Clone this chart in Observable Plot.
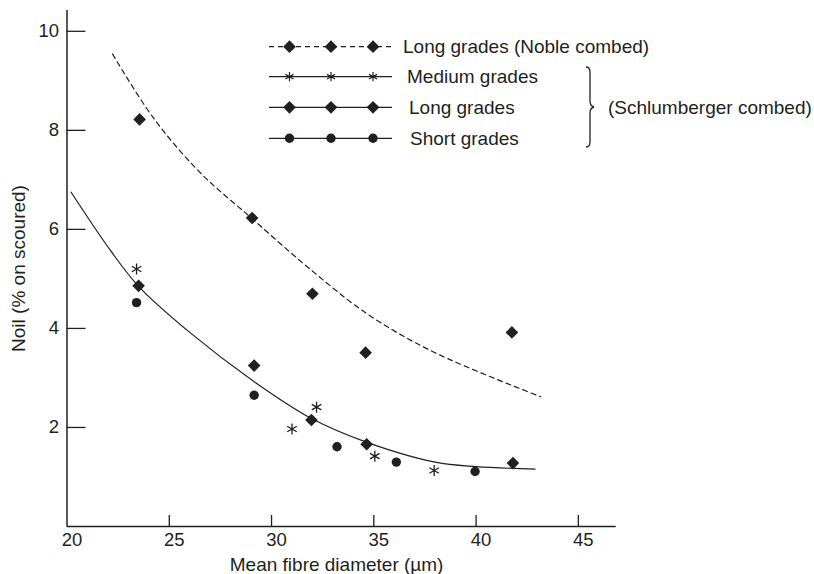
<!DOCTYPE html>
<html><head><meta charset="utf-8">
<script src="https://cdn.jsdelivr.net/npm/d3@7"></script>
<script src="https://cdn.jsdelivr.net/npm/@observablehq/plot@0.6"></script>
<style>
body{margin:0;background:#fff;}
#chart{position:relative;width:814px;height:574px;}
</style></head><body><div id="chart"></div>
<script>
// ---- data ----
const nobleX = [23.55, 29.05, 32.0, 34.6, 41.75];
const nobleY = [8.22, 6.23, 4.70, 3.51, 3.92];
const mediumX = [23.4, 31.0, 32.2, 35.05, 37.95];
const mediumY = [5.2, 1.97, 2.41, 1.42, 1.13];
const longX = [23.5, 29.15, 31.95, 34.65, 41.8];
const longY = [4.86, 3.25, 2.15, 1.66, 1.28];
const shortX = [23.4, 29.15, 33.2, 36.1, 39.95];
const shortY = [4.52, 2.65, 1.61, 1.30, 1.11];
// fitted curves
const nobleFitX = [22.23, 24.19, 26.5, 29.04, 31.76, 34.69, 37.94, 43.16];
const nobleFitY = [9.54, 8.27, 7.15, 6.22, 5.24, 4.29, 3.52, 2.62];
const schlFitX = [20.2, 22.15, 23.5, 26.0, 29.17, 32.0, 34.6, 38.0, 40.0, 42.88];
const schlFitY = [6.75, 5.56, 4.85, 3.92, 2.92, 2.17, 1.71, 1.30, 1.21, 1.16];
const xTicks = [20, 25, 30, 35, 40, 45];
const yTicks = [2, 4, 6, 8, 10];
const xLabel = "Mean fibre diameter (µm)";
const yLabel = "Noil (% on scoured)";
const legendLabels = ["Long grades (Noble combed)", "Medium grades", "Long grades", "Short grades"];
const braceLabel = "(Schlumberger combed)";

const ink = "#231f20";
const font = "'Liberation Sans', Arial, Helvetica, sans-serif";
const fs = 19;
const fsTick = 18.5;
const pts = (xs, ys) => xs.map((x, i) => ({x, y: ys[i]}));
const xMax = 46.85, yMax = 10.42;
const rD = 5.7, rC = 4.7, rA = 5.2;

const plot = Plot.plot({
  width: 814, height: 574,
  marginLeft: 66.5, marginRight: 198.3, marginTop: 10, marginBottom: 48,
  style: {fontFamily: font, fontSize: fs + "px", color: ink, background: "white", overflow: "visible"},
  x: {domain: [20, xMax]},
  y: {domain: [0, yMax]},
  marks: [
    Plot.axisX(xTicks, {tickSize: 0, tickPadding: 6, dx: 5, fontSize: fsTick, label: null, fill: ink, tickFormat: d => String(d)}),
    Plot.axisY(yTicks, {tickSize: 0, tickPadding: 8, fontSize: fsTick, label: null, fill: ink, tickFormat: d => String(d)}),
    Plot.ruleX(xTicks.filter(d => d > 20), {x: d => d, y1: 0, y2: 11 / 49.53, stroke: ink, strokeWidth: 1.3}),
    Plot.ruleY(yTicks, {y: d => d, x1: 20, x2: 20 + 19 / 20.45, stroke: ink, strokeWidth: 1.3}),
    Plot.ruleX([20], {y1: 0, y2: yMax, stroke: ink, strokeWidth: 1.5}),
    Plot.ruleY([0], {x1: 20, x2: xMax, stroke: ink, strokeWidth: 1.5}),
    Plot.line(pts(nobleFitX, nobleFitY), {x: "x", y: "y", curve: "catmull-rom", stroke: ink, strokeWidth: 1.2, strokeDasharray: "5,4"}),
    Plot.line(pts(schlFitX, schlFitY), {x: "x", y: "y", curve: "catmull-rom", stroke: ink, strokeWidth: 1.2}),
    Plot.dot(pts(nobleX, nobleY), {x: "x", y: "y", symbol: "diamond2", r: rD, fill: ink, stroke: "none"}),
    Plot.dot(pts(longX, longY), {x: "x", y: "y", symbol: "diamond2", r: rD, fill: ink, stroke: "none"}),
    Plot.dot(pts(shortX, shortY), {x: "x", y: "y", symbol: "circle", r: rC, fill: ink, stroke: "none"}),
    Plot.dot(pts(mediumX, mediumY), {x: "x", y: "y", symbol: "asterisk", r: rA, fill: "none", stroke: ink, strokeWidth: 1.3}),
    Plot.text([xLabel], {frameAnchor: "bottom", textAnchor: "middle", dy: 44, dx: -5, fontSize: fs, fill: ink}),
    Plot.text([yLabel], {frameAnchor: "left", textAnchor: "middle", lineAnchor: "middle", rotate: -90, dx: -48, fontSize: fs, fill: ink})
  ]
});
document.getElementById("chart").appendChild(plot);

// ---- legend (drawn inside the same SVG) ----
const svg = d3.select(plot);
const g = svg.append("g").attr("font-family", font).attr("font-size", fs)
  .attr("fill", ink).attr("text-anchor", "start");
const rowsY = [46.7, 76.7, 107.3, 138.3];
const textX = [403, 407, 409, 410];
const symX = [289.5, 331, 373];
const syms = [
  {type: d3.symbolDiamond2, r: rD, fill: ink, stroke: "none", dash: "5,4"},
  {type: d3.symbolAsterisk, r: 4.4, fill: "none", stroke: ink, dash: null},
  {type: d3.symbolDiamond2, r: rD, fill: ink, stroke: "none", dash: null},
  {type: d3.symbolCircle, r: rC, fill: ink, stroke: "none", dash: null}
];
rowsY.forEach((y, i) => {
  const s = syms[i];
  g.append("line").attr("x1", 269).attr("x2", 392).attr("y1", y).attr("y2", y)
    .attr("stroke", ink).attr("stroke-width", 1.2).attr("stroke-dasharray", s.dash);
  symX.forEach(x => {
    g.append("path").attr("d", d3.symbol(s.type, Math.PI * s.r * s.r)())
      .attr("transform", `translate(${x},${y})`)
      .attr("fill", s.fill).attr("stroke", s.stroke === "none" ? null : s.stroke)
      .attr("stroke-width", 1.2);
  });
  g.append("text").attr("x", textX[i]).attr("y", y).attr("dy", "0.35em").text(legendLabels[i]);
});
// brace
const bp = d3.path();
bp.moveTo(586, 67);
bp.quadraticCurveTo(590, 67, 590, 72);
bp.lineTo(590, 101);
bp.quadraticCurveTo(590, 106, 594, 107);
bp.quadraticCurveTo(590, 108, 590, 113);
bp.lineTo(590, 142);
bp.quadraticCurveTo(590, 147, 586, 147);
g.append("path").attr("d", bp.toString()).attr("fill", "none").attr("stroke", ink).attr("stroke-width", 1.3);
g.append("text").attr("x", 608).attr("y", 107.3).attr("dy", "0.35em").text(braceLabel);
</script></body></html>
